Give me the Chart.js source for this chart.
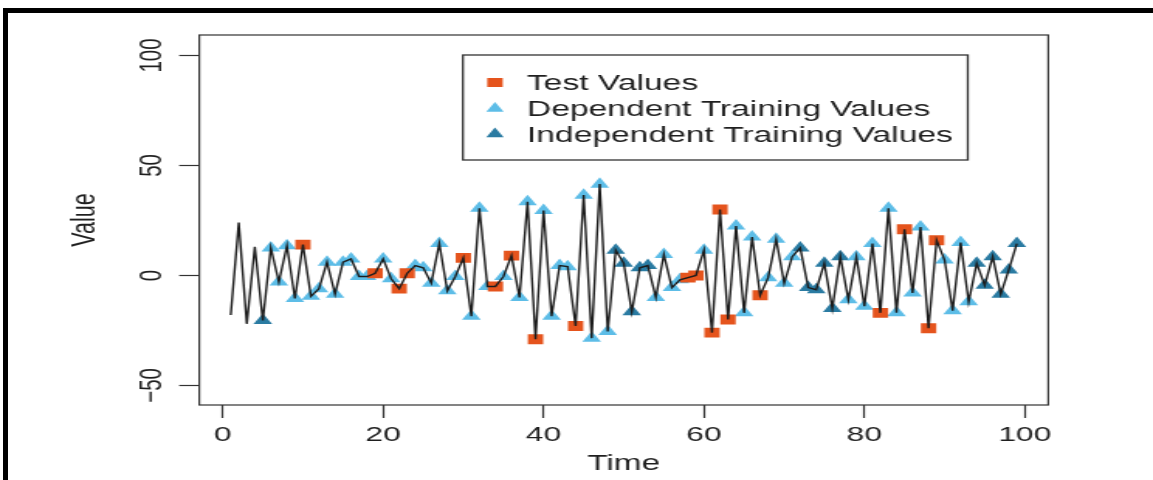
<!DOCTYPE html>
<html>
<head>
<meta charset="utf-8">
<script src="https://cdn.jsdelivr.net/npm/chart.js@4.4.1/dist/chart.umd.min.js"></script>
<style>
  html, body { margin: 0; padding: 0; background: #fff; }
  body { width: 1153px; height: 480px; overflow: hidden; position: relative; }
  /* the plot is laid out narrow and widened horizontally */
  #stage { position: absolute; left: 0; top: 0; width: 744px; height: 480px;
           transform: scaleX(1.5497); transform-origin: 0 0; }
  #frame { position: absolute; left: 3px; top: 8px; right: -20px; bottom: -20px;
           border-top: 5px solid #000; border-left: 5px solid #000; pointer-events: none; }
</style>
</head>
<body>
<div id="stage"><canvas id="c" width="744" height="480"></canvas></div>
<div id="frame"></div>
<script>
// time index of every observation
const timeSteps = [
   1,  2,  3,  4,  5,  6,  7,  8,  9, 10, 11, 12, 13, 14, 15, 16, 17, 18, 19, 20,
  21, 22, 23, 24, 25, 26, 27, 28, 29, 30, 31, 32, 33, 34, 35, 36, 37, 38, 39, 40,
  41, 42, 43, 44, 45, 46, 47, 48, 49, 50, 51, 52, 53, 54, 55, 56, 57, 58, 59, 60,
  61, 62, 63, 64, 65, 66, 67, 68, 69, 70, 71, 72, 73, 74, 75, 76, 77, 78, 79, 80,
  81, 82, 83, 84, 85, 86, 87, 88, 89, 90, 91, 92, 93, 94, 95, 96, 97, 98, 99
];

// observed value at each time step
const seriesValues = [
  -18,   24,  -22,   13, -20.5, 12.5,   -3, 13.5, -10.5,   14,
  -9.5,  -6,    6, -8.5,     6,  7.5, -0.5, -0.5,     1,  7.5,
  -1.5,  -6,    1,  4.5,   3.5, -3.5, 14.5,   -7,  -0.5,    8,
  -18.5, 30.5, -5,   -5,  -0.5,    9,  -10, 33.5,   -29, 29.5,
  -18.5, 4.5,   4,  -23,  36.5, -28.5, 41.5, -25.5, 11.5,  5.5,
  -16.5, 3.5, 4.5,  -10,   9.5, -5.5,   -2,   -1,     0, 11.5,
  -26,   30,  -20, 22.5,   -17, 17.5,   -9,   -1,  16.5, -3.5,
  8.5, 12.5, -5.5, -6.5,   5.5,  -15,  8.5,  -11,   8.5,  -14,
  14.5, -17, 30.5,  -17,    21,   -8,   22,  -24,    16,    7,
  -16,   15,  -12,  5.5,  -4.5,  8.5, -8.5,  2.5,  14.5
];

// which time steps belong to each group
const testTimes = [10, 19, 22, 23, 30, 34, 36, 39, 44, 58, 59, 61, 62, 63, 67, 82, 85, 88, 89];
const dependentTimes = [6, 7, 8, 9, 11, 12, 13, 14, 15, 16, 17, 18, 20, 21, 24, 25, 26, 27, 28, 29,
  31, 32, 33, 35, 37, 38, 40, 41, 42, 43, 45, 46, 47, 48, 54, 55, 56, 57, 60, 64, 65, 66,
  68, 69, 70, 71, 78, 79, 80, 81, 83, 84, 86, 87, 90, 91, 92, 93];
const independentTimes = [5, 49, 50, 51, 52, 53, 72, 73, 74, 75, 76, 77, 94, 95, 96, 97, 98, 99];

const seriesNames = ['Test Values', 'Dependent Training Values', 'Independent Training Values'];

const xTickValues = [0, 20, 40, 60, 80, 100];
const xTickLabels = ['0', '20', '40', '60', '80', '100'];
const yTickValues = [-50, 0, 50, 100];
const yTickLabels = ['\u221250', '0', '50', '100'];

const FONT = "'Liberation Sans', Arial, Helvetica, sans-serif";
const INK = '#1f1f1f';

function pointsFor(times) {
  return times.map(t => ({ x: t, y: seriesValues[timeSteps.indexOf(t)] }));
}

// closed frame around the plotting region
const plotFrame = {
  id: 'plotFrame',
  afterDatasetsDraw(chart) {
    const { ctx, chartArea: a } = chart;
    ctx.save();
    ctx.strokeStyle = '#333';
    ctx.lineWidth = 1.2;
    ctx.strokeRect(a.left, a.top, a.right - a.left, a.bottom - a.top);
    ctx.restore();
  }
};

// boxed key listing the marker groups
const boxedKey = {
  id: 'boxedKey',
  afterDraw(chart) {
    const { ctx, chartArea: a } = chart;
    const left = a.left + 170.1, top = a.top + 20, w = 325.8, h = 105;
    ctx.save();
    ctx.strokeStyle = '#333';
    ctx.lineWidth = 1.3;
    ctx.strokeRect(left, top, w, h);
    const baselines = [90, 116, 141.5];
    const sets = chart.data.datasets.filter(d => d.type === 'scatter');
    sets.forEach((d, i) => {
      const by = baselines[i];
      const mx = left + 20.7, my = by - 7.5;
      ctx.fillStyle = d.backgroundColor;
      ctx.beginPath();
      if (d.pointStyle === 'rect') {
        ctx.rect(mx - 5, my - 4.5, 10, 9);
      } else {
        const r = 6.5;
        ctx.moveTo(mx, my - r);
        ctx.lineTo(mx + r * 0.866, my + r / 2);
        ctx.lineTo(mx - r * 0.866, my + r / 2);
        ctx.closePath();
      }
      ctx.fill();
      ctx.fillStyle = INK;
      ctx.font = '21.7px ' + FONT;
      ctx.textBaseline = 'alphabetic';
      ctx.textAlign = 'left';
      ctx.fillText(d.label, left + 41.3, by);
    });
    ctx.restore();
  }
};

const tickGrid = {
  drawOnChartArea: false,
  drawTicks: true,
  tickLength: 13,
  tickColor: '#333',
  tickWidth: 1.2
};

new Chart(document.getElementById('c'), {
  data: {
    datasets: [
      {
        type: 'line',
        label: 'Value',
        data: timeSteps.map((t, i) => ({ x: t, y: seriesValues[i] })),
        borderColor: '#1c1c1c',
        borderWidth: 1.4,
        pointRadius: 0,
        tension: 0,
        order: 0
      },
      {
        type: 'scatter',
        label: seriesNames[0],
        data: pointsFor(testTimes),
        pointStyle: 'rect',
        pointRadius: 7,
        backgroundColor: '#E5541D',
        borderWidth: 0,
        order: 1
      },
      {
        type: 'scatter',
        label: seriesNames[1],
        data: pointsFor(dependentTimes),
        pointStyle: 'triangle',
        pointRadius: 7,
        backgroundColor: '#5DBDE7',
        borderWidth: 0,
        order: 2
      },
      {
        type: 'scatter',
        label: seriesNames[2],
        data: pointsFor(independentTimes),
        pointStyle: 'triangle',
        pointRadius: 7,
        backgroundColor: '#2A7BA2',
        borderWidth: 0,
        order: 3
      }
    ]
  },
  options: {
    responsive: false,
    animation: false,
    devicePixelRatio: 1,
    layout: { padding: { left: 0, top: 35, right: 67.6, bottom: 0 } },
    plugins: { legend: { display: false }, tooltip: { enabled: false } },
    scales: {
      x: {
        type: 'linear',
        position: 'bottom',
        min: -2.92,
        max: 102.92,
        afterBuildTicks: s => { s.ticks = xTickValues.map(v => ({ value: v })); },
        afterFit: s => { s.height = 75; },
        grid: tickGrid,
        border: { display: false },
        ticks: {
          autoSkip: false, maxRotation: 0, padding: 5,
          color: INK, font: { family: FONT, size: 20.5 },
          callback: v => xTickLabels[xTickValues.indexOf(v)]
        },
        title: {
          display: true, text: 'Time', color: INK,
          font: { family: FONT, size: 21.5 },
          padding: { top: 0, bottom: 3.5 }
        }
      },
      y: {
        type: 'linear',
        position: 'left',
        min: -58.9,
        max: 109.3,
        afterBuildTicks: s => { s.ticks = yTickValues.map(v => ({ value: v })); },
        afterFit: s => { s.width = 128.6; },
        grid: tickGrid,
        border: { display: false },
        ticks: {
          autoSkip: false, minRotation: 90, maxRotation: 90,
          crossAlign: 'center', padding: 0,
          color: INK, font: { family: FONT, size: 20.5 },
          callback: v => yTickLabels[yTickValues.indexOf(v)]
        },
        title: {
          display: true, text: 'Value', color: INK,
          font: { family: FONT, size: 21.5 },
          padding: { top: 42, bottom: 0 }
        }
      }
    }
  },
  plugins: [plotFrame, boxedKey]
});
</script>
</body>
</html>
